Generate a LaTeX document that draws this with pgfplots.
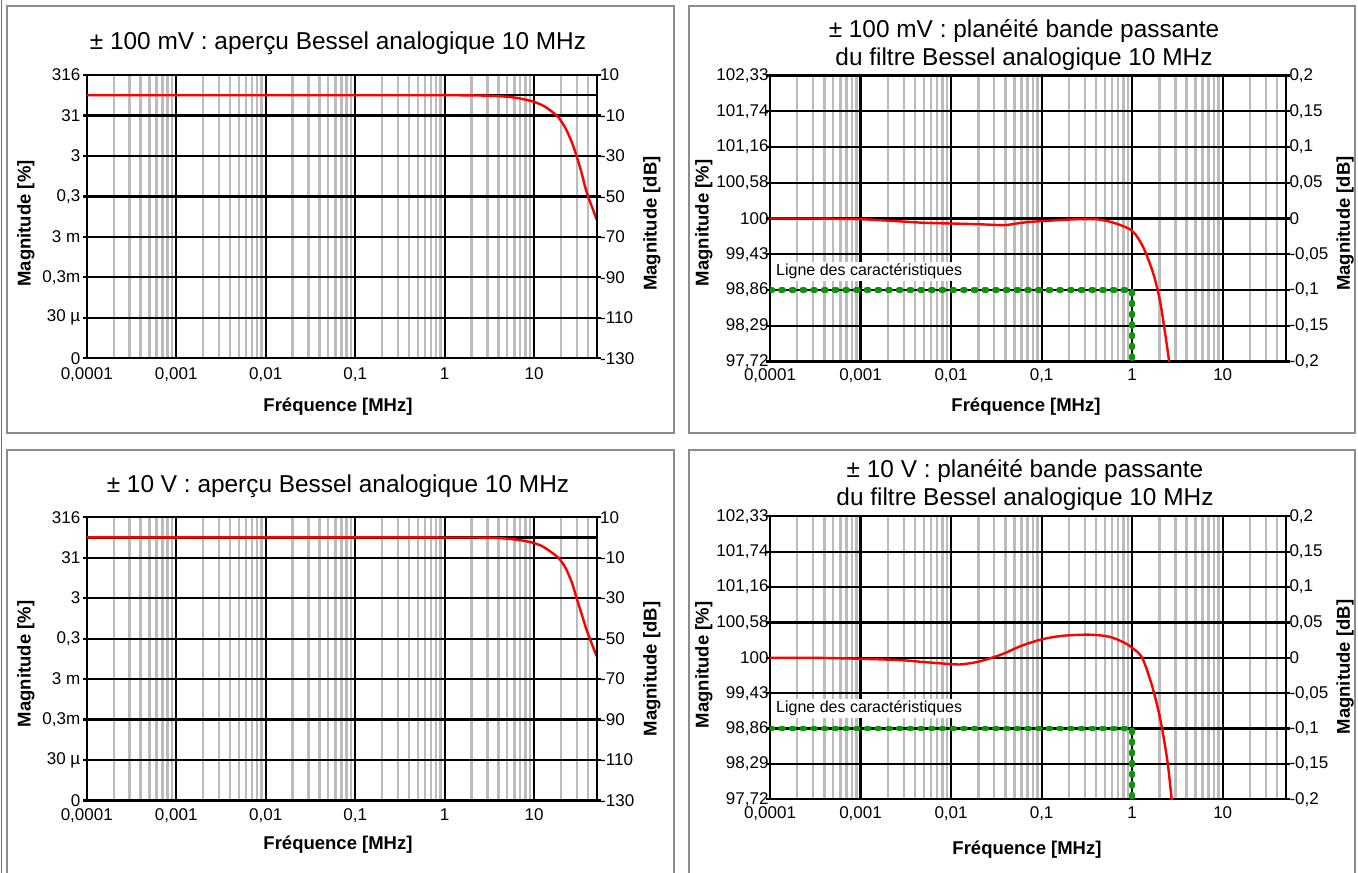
\documentclass[border=0pt]{standalone}
\usepackage{fontspec}
\setmainfont{Liberation Sans}
\usepackage{pgfplots}
\pgfplotsset{compat=1.18}
\definecolor{gridgray}{RGB}{188,188,188}
\definecolor{framegray}{RGB}{140,140,140}
\definecolor{linegreen}{RGB}{10,150,10}

\pgfplotsset{
  besselgrid/.style={
    scale only axis, xmin=1e-4, xmax=50,
    xtick={1e-4,1e-3,1e-2,1e-1,1,10},
    xticklabels={{0,0001},{0,001},{0,01},{0,1},{1},{10}},
    minor xtick={2e-4,3e-4,4e-4,5e-4,6e-4,7e-4,8e-4,9e-4,
      0.002,0.003,0.004,0.005,0.006,0.007,0.008,0.009,
      0.02,0.03,0.04,0.05,0.06,0.07,0.08,0.09,
      0.2,0.3,0.4,0.5,0.6,0.7,0.8,0.9,
      2,3,4,5,6,7,8,9,20,30,40},
    grid=both,
    major grid style={black,line width=2.2pt},
    minor grid style={gridgray,line width=2.4pt},
    axis line style={black,line width=2.2pt},
    tick align=outside,
    xtick pos=bottom, ytick pos=left,
    major tick length=4pt, minor tick length=0pt,
    xtick style={draw=none},
    ytick style={black,line width=2.2pt},
    tick label style={font=\fontsize{17}{19}\selectfont},
  },
  rightlabels/.style={
    scale only axis, xmin=1e-4, xmax=50,
    axis x line=none, axis y line*=right,
    axis line style={black,line width=2.2pt},
    tick align=outside, major tick length=4pt,
    ytick style={black,line width=2.2pt},
    yticklabel style={xshift=-4pt},
    tick label style={font=\fontsize{17}{19}\selectfont},
  },
  redcurve/.style={red,line width=2.4pt,smooth},
  zeroline/.style={black,line width=2.2pt},
  greenline/.style={linegreen,line width=5.5pt,dash pattern=on 2.5pt off 8.2pt,line cap=round},
  ovw/.style={ymin=-130,ymax=10,
    ytick={-130,-110,-90,-70,-50,-30,-10,10},
  },
  flt/.style={ymin=-0.2,ymax=0.2,
    ytick={-0.2,-0.15,-0.1,-0.05,0,0.05,0.1,0.15,0.2},
  },
}

\newcommand\titlefont{\fontsize{24.4}{28.5}\selectfont}
\newcommand\labfont{\fontsize{18.5}{21}\selectfont\bfseries}
\newcommand\smallfont{\fontsize{16}{19}\selectfont}

\begin{document}
\begin{tikzpicture}[x=1pt,y=1pt]
\useasboundingbox (0,0) rectangle (1358,873);
\fill[white] (0,0) rectangle (1358,873);
% panel frames
\draw[framegray,line width=2pt] (7,440) rectangle (674,867);
\draw[framegray,line width=2pt] (689,440) rectangle (1355,867);
\draw[framegray,line width=2pt] (7,-10) rectangle (674,423);
\draw[framegray,line width=2pt] (689,-10) rectangle (1355,423);
\draw[framegray!80!black,line width=1.5pt] (1.5,0) -- (1.5,873);

% ---------- top left: +-100 mV overview
\begin{semilogxaxis}[besselgrid,ovw,at={(86.8pt,514.7pt)},width=509.9pt,height=283.3pt,
  yticklabels={{0},{30 µ},{0,3m},{3 m},{0,3},{3},{31},{316}},
  yticklabel style={xshift=1pt}, xticklabel style={yshift=-1.5pt}]
\addplot[zeroline] coordinates {(0.0001,0) (50,0)};
\addplot[redcurve] coordinates {
 (0.0001,0) (0.01,0) (1,-0.02) (2,-0.1) (3,-0.22) (4.14,-0.5) (5,-0.75)
 (6.35,-1.3) (8,-2.2) (10,-3.3) (12,-4.7) (13.7,-6.1) (16,-8.3) (18.5,-10.7)
 (21,-14.2) (23,-17.3) (26.5,-23.5) (29.8,-30.1) (33.5,-37.5) (37,-45)
 (40,-50) (45,-56) (50,-61.5)};
\end{semilogxaxis}
\begin{semilogxaxis}[rightlabels,ovw,at={(86.8pt,514.7pt)},width=509.9pt,height=283.3pt,
  yticklabels={{-130},{-110},{-90},{-70},{-50},{-30},{-10},{10}}]
\end{semilogxaxis}
\node[font=\titlefont] at (338,830) {± 100 mV : aperçu Bessel analogique 10 MHz};
\node[font=\labfont,rotate=90] at (26,649.5) {Magnitude [\%]};
\node[font=\labfont,rotate=90] at (652,649.5) {Magnitude [dB]};
\node[font=\labfont] at (338,466.3) {Fréquence [MHz]};

% ---------- top right: +-100 mV flatness
\begin{semilogxaxis}[besselgrid,flt,at={(770pt,511.5pt)},width=516pt,height=286pt,
  yticklabels={{97,72},{98,29},{98,86},{99,43},{100},{100,58},{101,16},{101,74},{102,33}},
  yticklabel style={xshift=6pt}]
\addplot[redcurve] coordinates {
 (0.0001,0) (0.0003,0) (0.001,-0.001) (0.002,-0.003) (0.005,-0.006)
 (0.01,-0.007) (0.02,-0.008) (0.0378,-0.0093) (0.05,-0.0075) (0.07,-0.005)
 (0.1,-0.0037) (0.2,-0.0015) (0.283,-0.001) (0.43,-0.0014) (0.66,-0.007)
 (1,-0.0173) (1.32,-0.0397) (1.71,-0.077) (2.02,-0.114) (2.29,-0.157)
 (2.56,-0.2) (2.7,-0.225)};
\addplot[greenline] coordinates {(0.0001,-0.1) (1,-0.1) (1,-0.2)};
\end{semilogxaxis}
\begin{semilogxaxis}[rightlabels,flt,at={(770pt,511.5pt)},width=516pt,height=286pt,
  yticklabels={{-0,2},{-0,15},{-0,1},{-0,05},{0},{0,05},{0,1},{0,15},{0,2}}]
\end{semilogxaxis}
\node[font=\titlefont,align=center] at (1024,828) {± 100 mV : planéité bande passante\\du filtre Bessel analogique 10 MHz};
\node[font=\smallfont,fill=white,anchor=west,inner sep=2pt] at (774,601.3) {Ligne des caractéristiques};
\node[font=\labfont,rotate=90] at (704,650) {Magnitude [\%]};
\node[font=\labfont,rotate=90] at (1345,649.5) {Magnitude [dB]};
\node[font=\labfont] at (1026,466.3) {Fréquence [MHz]};

% ---------- bottom left: +-10 V overview
\begin{semilogxaxis}[besselgrid,ovw,at={(86.8pt,72.5pt)},width=509.9pt,height=283.3pt,
  yticklabels={{0},{30 µ},{0,3m},{3 m},{0,3},{3},{31},{316}},
  yticklabel style={xshift=1pt}, xticklabel style={yshift=-1pt}]
\addplot[zeroline] coordinates {(0.0001,0) (50,0)};
\addplot[redcurve] coordinates {
 (0.0001,0) (0.01,0) (1,-0.01) (3,-0.1) (4.14,-0.3) (6.35,-1.1) (8,-1.8)
 (10,-2.8) (12,-4.1) (13.7,-5.6) (16,-7.7) (18.5,-9.9) (21,-13) (23,-16)
 (26.5,-22.5) (29.8,-30) (34,-38) (38.5,-45.6) (44,-52.5) (50,-58.7)};
\end{semilogxaxis}
\begin{semilogxaxis}[rightlabels,ovw,at={(86.8pt,72.5pt)},width=509.9pt,height=283.3pt,
  yticklabels={{-130},{-110},{-90},{-70},{-50},{-30},{-10},{10}}]
\end{semilogxaxis}
\node[font=\titlefont] at (338,387) {± 10 V : aperçu Bessel analogique 10 MHz};
\node[font=\labfont,rotate=90] at (26,209) {Magnitude [\%]};
\node[font=\labfont,rotate=90] at (652,204) {Magnitude [dB]};
\node[font=\labfont] at (338,28) {Fréquence [MHz]};

% ---------- bottom right: +-10 V flatness
\begin{semilogxaxis}[besselgrid,flt,at={(770pt,73.7pt)},width=516pt,height=283pt,
  yticklabels={{97,72},{98,29},{98,86},{99,43},{100},{100,58},{101,16},{101,74},{102,33}},
  yticklabel style={xshift=6pt}]
\addplot[redcurve] coordinates {
 (0.0001,0) (0.0003,0) (0.001,-0.0014) (0.00278,-0.0033) (0.005,-0.006)
 (0.01,-0.009) (0.0124,-0.0095) (0.0198,-0.0057) (0.036,0.0047) (0.06,0.017)
 (0.1,0.026) (0.167,0.031) (0.33,0.0327) (0.55,0.030) (0.8,0.022) (1,0.014)
 (1.29,0) (1.67,-0.041) (2.06,-0.089) (2.45,-0.146) (2.73,-0.2) (2.85,-0.225)};
\addplot[greenline] coordinates {(0.0001,-0.1) (1,-0.1) (1,-0.2)};
\end{semilogxaxis}
\begin{semilogxaxis}[rightlabels,flt,at={(770pt,73.7pt)},width=516pt,height=283pt,
  yticklabels={{-0,2},{-0,15},{-0,1},{-0,05},{0},{0,05},{0,1},{0,15},{0,2}}]
\end{semilogxaxis}
\node[font=\titlefont,align=center] at (1025,388) {± 10 V : planéité bande passante\\du filtre Bessel analogique 10 MHz};
\node[font=\smallfont,fill=white,anchor=west,inner sep=2pt] at (774,164.7) {Ligne des caractéristiques};
\node[font=\labfont,rotate=90] at (704,208) {Magnitude [\%]};
\node[font=\labfont,rotate=90] at (1345,206) {Magnitude [dB]};
\node[font=\labfont] at (1027,23) {Fréquence [MHz]};
\end{tikzpicture}
\end{document}
